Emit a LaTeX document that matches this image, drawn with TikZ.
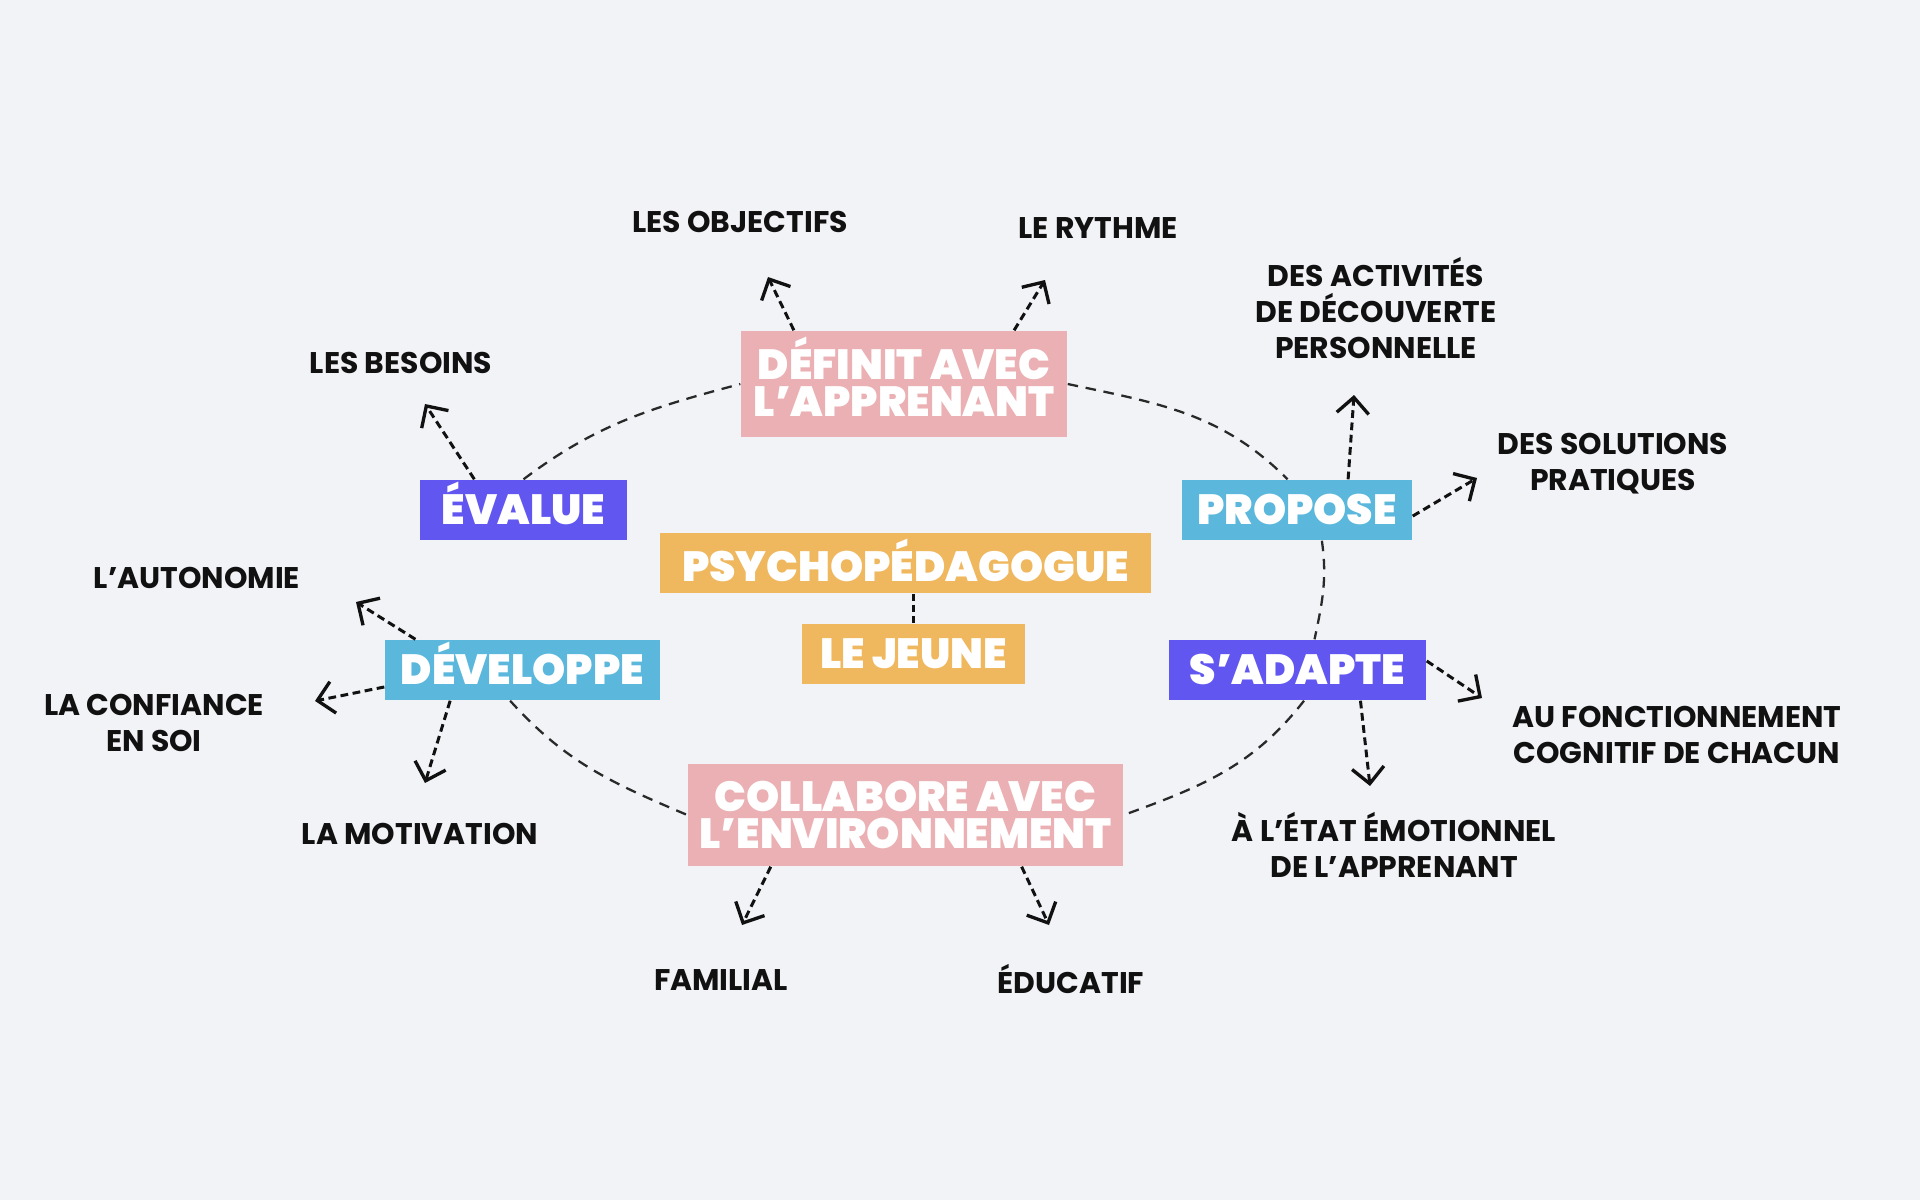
\documentclass[tikz,border=0pt]{standalone}
\usepackage{fontspec}
\usepackage{xcolor}
\usepackage{tikz}
\usetikzlibrary{arrows.meta, positioning}

\newfontfamily\boxfont{Poppins Black}
\newfontfamily\labfont{Poppins Bold}

\definecolor{bgpaper}{HTML}{F2F3F7}
\definecolor{rosebox}{HTML}{EBB0B3}
\definecolor{violetbox}{HTML}{6157F0}
\definecolor{skybox}{HTML}{5BB7DC}
\definecolor{ochrebox}{HTML}{EFB75E}
\definecolor{ink}{HTML}{111111}

\begin{document}
\begin{tikzpicture}[
    box/.style={inner sep=0pt, text=white, align=center,
      font=\boxfont\fontsize{12}{10.5}\selectfont},
    capb/.style={text height=0.29cm, text depth=0pt},
    lab/.style={inner sep=0pt, text=ink, align=center,
      font=\labfont\fontsize{8.5}{10.2}\selectfont},
    capl/.style={text height=0.21cm, text depth=0pt},
    ring/.style={draw=ink!90, line width=0.65pt, dash pattern=on 3pt off 2.2pt},
    tie/.style={draw=ink, line width=0.9pt, dash pattern=on 2pt off 1.2pt},
    branch/.style={draw=ink, line width=0.85pt, dash pattern=on 2.2pt off 1.3pt,
      -{Straight Barb[length=1.6mm, width=3.2mm, line width=0.95pt]}}
  ]
  % Background
  \fill[bgpaper] (0,0) rectangle (19.2,12);
  \useasboundingbox (0,0) rectangle (19.2,12);

  % Centre
  \node[box, capb, text height=0.37cm, fill=ochrebox, minimum width=4.91cm, minimum height=0.6cm] (psy) at (9.055,6.37) {PSYCHOPÉDAGOGUE};
  \node[box, capb, fill=ochrebox, minimum width=2.23cm, minimum height=0.6cm] (jeune) at (9.135,5.46) {LE JEUNE};
  \draw[tie] (psy.south -| jeune.north) -- (jeune.north);

  % Actions around the ring
  \node[box, fill=rosebox, minimum width=3.26cm, minimum height=1.06cm] (defin) at (9.04,8.16) {DÉFINIT AVEC\\L’APPRENANT\rule[-0.14cm]{0pt}{0.14cm}};
  \node[box, capb, fill=violetbox, minimum width=2.07cm, minimum height=0.6cm] (evalue) at (5.235,6.90) {ÉVALUE};
  \node[box, capb, fill=skybox, minimum width=2.75cm, minimum height=0.6cm] (devel) at (5.225,5.30) {DÉVELOPPE};
  \node[box, capb, fill=skybox, minimum width=2.30cm, minimum height=0.6cm] (propose) at (12.97,6.90) {PROPOSE};
  \node[box, capb, fill=violetbox, minimum width=2.57cm, minimum height=0.6cm] (adapte) at (12.975,5.30) {S’ADAPTE};
  \node[box, fill=rosebox, minimum width=4.35cm, minimum height=1.02cm] (collab) at (9.055,3.85) {COLLABORE AVEC\\L’ENVIRONNEMENT};

  % Dashed ring
  \draw[ring] (evalue.north) to[out=37, in=195] (defin.west);
  \draw[ring] (defin.east) to[out=-12, in=135] (propose.107);
  \draw[ring] (propose.-51) to[out=-82, in=78] (adapte.61);
  \draw[ring] (adapte.-78) to[out=-128, in=20] (collab.east);
  \draw[ring] (devel.-112) to[out=-48, in=157] (collab.west);

  % Arrow ends
  \coordinate (tobj) at (7.68,9.23);
  \coordinate (tryt) at (10.45,9.20);
  \coordinate (tbes) at (4.25,7.96);
  \coordinate (taut) at (3.56,5.98);
  \coordinate (tconf) at (3.15,4.99);
  \coordinate (tmot) at (4.25,4.17);
  \coordinate (tfam) at (7.42,2.75);
  \coordinate (tedu) at (10.49,2.75);
  \coordinate (tact) at (13.54,8.05);
  \coordinate (tsol) at (14.77,7.22);
  \coordinate (tfonc) at (14.82,5.02);
  \coordinate (tetat) at (13.70,4.14);

  % Branches
  \draw[branch] (defin.154) -- (tobj);
  \draw[branch] (defin.26) -- (tryt);
  \draw[branch] (evalue.148) -- (tbes);
  \draw[branch] (devel.164) -- (taut);
  \draw[branch] (devel.187) -- (tconf);
  \draw[branch] (devel.203) -- (tmot);
  \draw[branch] (collab.201) -- (tfam);
  \draw[branch] (collab.-24) -- (tedu);
  \draw[branch] (propose.31) -- (tact);
  \draw[branch] (propose.-3) -- (tsol);
  \draw[branch] (adapte.4) -- (tfonc);
  \draw[branch] (adapte.-26) -- (tetat);

  % Labels
  \node[lab, capl] (objectifs) at (7.40,9.78) {LES OBJECTIFS};
  \node[lab, capl] (rythme) at (10.98,9.72) {LE RYTHME};
  \node[lab] (activites) at (13.76,8.92) {DES ACTIVITÉS\\DE DÉCOUVERTE\\PERSONNELLE};
  \node[lab] (solutions) at (16.13,7.36) {DES SOLUTIONS\\PRATIQUES};
  \node[lab, capl] (besoins) at (4.01,8.37) {LES BESOINS};
  \node[lab, capl] (autonomie) at (1.97,6.22) {L’AUTONOMIE};
  \node[lab] (confiance) at (1.54,4.77) {LA CONFIANCE\\EN SOI};
  \node[lab, capl] (motivation) at (4.20,3.66) {LA MOTIVATION};
  \node[lab, capl] (familial) at (7.21,2.20) {FAMILIAL};
  \node[lab, capl] (educatif) at (10.71,2.17) {ÉDUCATIF};
  \node[lab] (etat) at (13.94,3.55) {À L’ÉTAT ÉMOTIONNEL\\DE L’APPRENANT};
  \node[lab] (fonction) at (16.77,4.65) {AU FONCTIONNEMENT\\COGNITIF DE CHACUN};
\end{tikzpicture}
\end{document}
